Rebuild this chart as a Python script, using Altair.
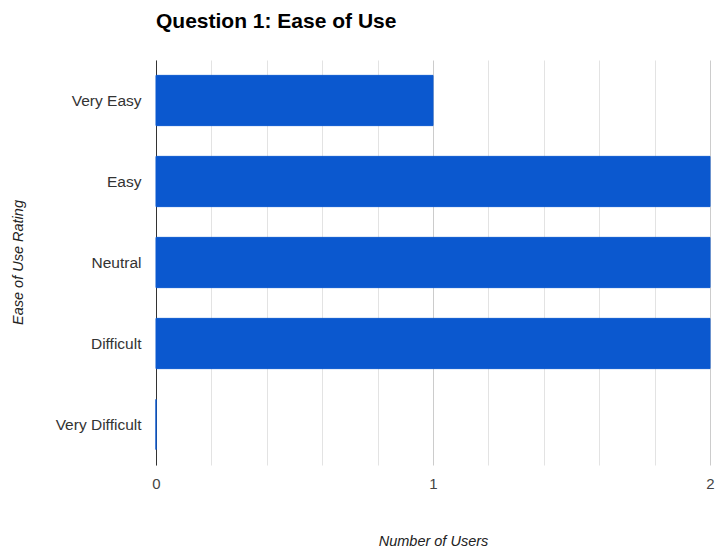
import altair as alt
import pandas as pd

ratings = ["Very Easy", "Easy", "Neutral", "Difficult", "Very Difficult"]
users = [1, 2, 2, 2, 0]
grid_ticks = [0, 0.2, 0.4, 0.6, 0.8, 1, 1.2, 1.4, 1.6, 1.8, 2]

df = pd.DataFrame({"rating": ratings, "users": users})

FONT = "Liberation Sans"
BLUE = "#0b58cf"

chart = alt.Chart(df).mark_bar(color=BLUE, stroke=BLUE, strokeWidth=1).encode(
    x=alt.X(
        "users:Q",
        scale=alt.Scale(domain=[0, 2], nice=False),
        axis=alt.Axis(
            title="Number of Users",
            values=grid_ticks,
            labelExpr="round(datum.value) == datum.value ? '' + round(datum.value) : ''",
            labelOverlap=False,
            ticks=False,
            domain=False,
            grid=True,
            gridColor={
                "condition": {"test": "round(datum.value) == datum.value", "value": "#cccccc"},
                "value": "#e3e3e3",
            },
            gridWidth=1,
            gridOpacity=1,
            labelFont=FONT,
            labelFontSize=15,
            labelColor="#444444",
            labelPadding=11,
            labelFlush=False,
            titleFont=FONT,
            titleFontSize=14.5,
            titleFontStyle="italic",
            titleFontWeight="normal",
            titleColor="#222222",
            titleY=76,
            titleBaseline="middle",
        ),
    ),
    y=alt.Y(
        "rating:N",
        sort=ratings,
        scale=alt.Scale(paddingInner=0.38, paddingOuter=0.19),
        axis=alt.Axis(
            title="Ease of Use Rating",
            ticks=False,
            domain=True,
            domainColor="#333333",
            domainWidth=1,
            labelFont=FONT,
            labelFontSize=15.5,
            labelColor="#333333",
            labelPadding=15,
            titleFont=FONT,
            titleFontSize=14.5,
            titleFontStyle="italic",
            titleFontWeight="normal",
            titleColor="#222222",
            titleAngle=270,
            titleX=-138,
            titleY=202,
            titleAlign="center",
            titleBaseline="middle",
        ),
    ),
).properties(
    width=554,
    height=405,
    title=alt.TitleParams(
        text="Question 1: Ease of Use",
        anchor="start",
        frame="group",
        font=FONT,
        fontSize=21,
        fontWeight="bold",
        color="#000000",
        baseline="alphabetic",
        offset=11,
    ),
    padding={"left": 156, "top": 60, "right": 8, "bottom": 87},
    autosize=alt.AutoSizeParams(type="none"),
    background="white",
).configure_view(stroke=None)

chart.save("out.html", embed_options={"renderer": "svg", "actions": False})
